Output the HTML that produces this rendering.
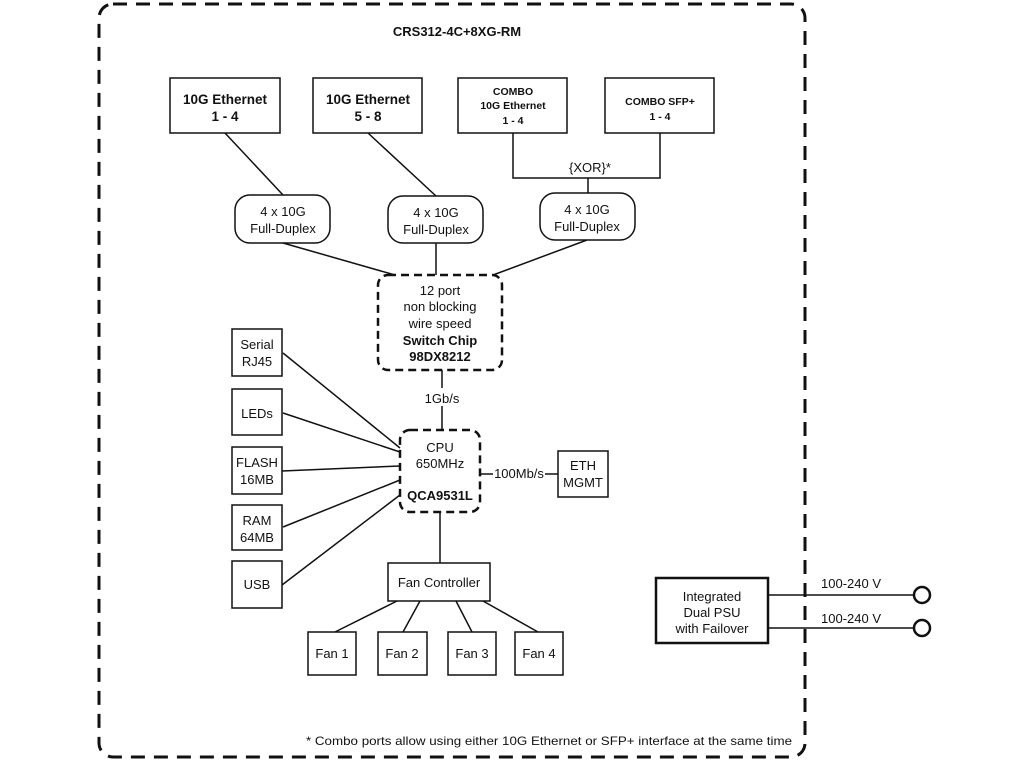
<!DOCTYPE html>
<html><head><meta charset="utf-8"><style>
html,body{margin:0;padding:0;background:#fff;}
svg{display:block;font-family:"Liberation Sans",Arial,sans-serif;}
</style></head><body>
<svg width="1024" height="768" viewBox="0 0 1024 768" xmlns="http://www.w3.org/2000/svg">
<g fill="none" stroke="#111">
<rect x="99" y="4" width="706" height="753" rx="14" stroke-width="3" stroke-dasharray="14,9"/>
<g stroke-width="1.5">
<rect x="170" y="78" width="110" height="55"/>
<rect x="313" y="78" width="109" height="55"/>
<rect x="458" y="78" width="109" height="55"/>
<rect x="605" y="78" width="109" height="55"/>
<line x1="225" y1="133" x2="283" y2="195"/>
<line x1="368" y1="133" x2="436" y2="196"/>
<polyline points="513,133 513,178 660,178 660,133"/>
<line x1="588" y1="178" x2="588" y2="193"/>
<rect x="235" y="195" width="95" height="48" rx="15"/>
<rect x="388" y="196" width="95" height="47" rx="15"/>
<rect x="540" y="193" width="95" height="47" rx="15"/>
<line x1="283" y1="243" x2="395" y2="275"/>
<line x1="436" y1="243" x2="436" y2="275"/>
<line x1="587" y1="240" x2="493" y2="275"/>
<line x1="442" y1="370" x2="442" y2="388"/>
<line x1="442" y1="406" x2="442" y2="430"/>
<rect x="232" y="329" width="50" height="47"/>
<rect x="232" y="389" width="50" height="46"/>
<rect x="232" y="447" width="50" height="47"/>
<rect x="232" y="505" width="50" height="45"/>
<rect x="232" y="561" width="50" height="47"/>
<line x1="283" y1="353" x2="400" y2="448"/>
<line x1="283" y1="413" x2="400" y2="452"/>
<line x1="282" y1="471" x2="400" y2="466"/>
<line x1="283" y1="527" x2="400" y2="480"/>
<line x1="282" y1="585" x2="400" y2="495"/>
<rect x="558" y="451" width="50" height="46"/>
<line x1="480" y1="474" x2="493" y2="474"/>
<line x1="545" y1="474" x2="558" y2="474"/>
<line x1="440" y1="512" x2="440" y2="563"/>
<rect x="388" y="563" width="102" height="38"/>
<rect x="308" y="632" width="48" height="43"/>
<rect x="378" y="632" width="49" height="43"/>
<rect x="448" y="632" width="48" height="43"/>
<rect x="515" y="632" width="48" height="43"/>
<line x1="397" y1="601" x2="335" y2="632"/>
<line x1="420" y1="601" x2="403" y2="632"/>
<line x1="456" y1="601" x2="472" y2="632"/>
<line x1="483" y1="601" x2="538" y2="632"/>
<line x1="768" y1="595" x2="914" y2="595"/>
<line x1="768" y1="628" x2="914" y2="628"/>
</g>
<rect x="378" y="275" width="124" height="95" rx="10" stroke-width="2.5" stroke-dasharray="8,5"/>
<rect x="400" y="430" width="80" height="82" rx="10" stroke-width="2.5" stroke-dasharray="8,5"/>
<rect x="656" y="578" width="112" height="65" stroke-width="2.5"/>
<circle cx="922" cy="595" r="8" stroke-width="2.5"/>
<circle cx="922" cy="628" r="8" stroke-width="2.5"/>
</g>
<g fill="#111" text-anchor="middle" font-size="13">
<text x="457" y="36" font-weight="bold" font-size="13">CRS312-4C+8XG-RM</text>
<g font-weight="bold" font-size="13.5">
<text x="225" y="104">10G Ethernet</text><text x="225" y="121">1 - 4</text>
<text x="368" y="104">10G Ethernet</text><text x="368" y="121">5 - 8</text>
<g font-size="10.5"><text x="513" y="95">COMBO</text><text x="513" y="109">10G Ethernet</text><text x="513" y="124">1 - 4</text>
<text x="660" y="105">COMBO SFP+</text><text x="660" y="120">1 - 4</text></g>
</g>
<text x="590" y="172">{XOR}*</text>
<text x="283" y="216">4 x 10G</text><text x="283" y="233">Full-Duplex</text>
<text x="436" y="217">4 x 10G</text><text x="436" y="234">Full-Duplex</text>
<text x="587" y="214">4 x 10G</text><text x="587" y="231">Full-Duplex</text>
<text x="440" y="295">12 port</text>
<text x="440" y="311">non blocking</text>
<text x="440" y="328">wire speed</text>
<text x="440" y="345" font-weight="bold">Switch Chip</text>
<text x="440" y="361" font-weight="bold">98DX8212</text>
<text x="442" y="403">1Gb/s</text>
<text x="440" y="452">CPU</text><text x="440" y="468">650MHz</text>
<text x="440" y="500" font-weight="bold">QCA9531L</text>
<text x="257" y="349">Serial</text><text x="257" y="366">RJ45</text>
<text x="257" y="418">LEDs</text>
<text x="257" y="467">FLASH</text><text x="257" y="484">16MB</text>
<text x="257" y="525">RAM</text><text x="257" y="542">64MB</text>
<text x="257" y="589">USB</text>
<text x="519" y="478">100Mb/s</text>
<text x="583" y="470">ETH</text><text x="583" y="487">MGMT</text>
<text x="439" y="587">Fan Controller</text>
<text x="332" y="658">Fan 1</text><text x="402" y="658">Fan 2</text>
<text x="472" y="658">Fan 3</text><text x="539" y="658">Fan 4</text>
<text x="712" y="601">Integrated</text><text x="712" y="617">Dual PSU</text><text x="712" y="633">with Failover</text>
<text x="851" y="588">100-240 V</text><text x="851" y="623">100-240 V</text>
<text x="549" y="745" font-size="12" textLength="486" lengthAdjust="spacingAndGlyphs">* Combo ports allow using either 10G Ethernet or SFP+ interface at the same time</text>
</g>
</svg>
</body></html>
